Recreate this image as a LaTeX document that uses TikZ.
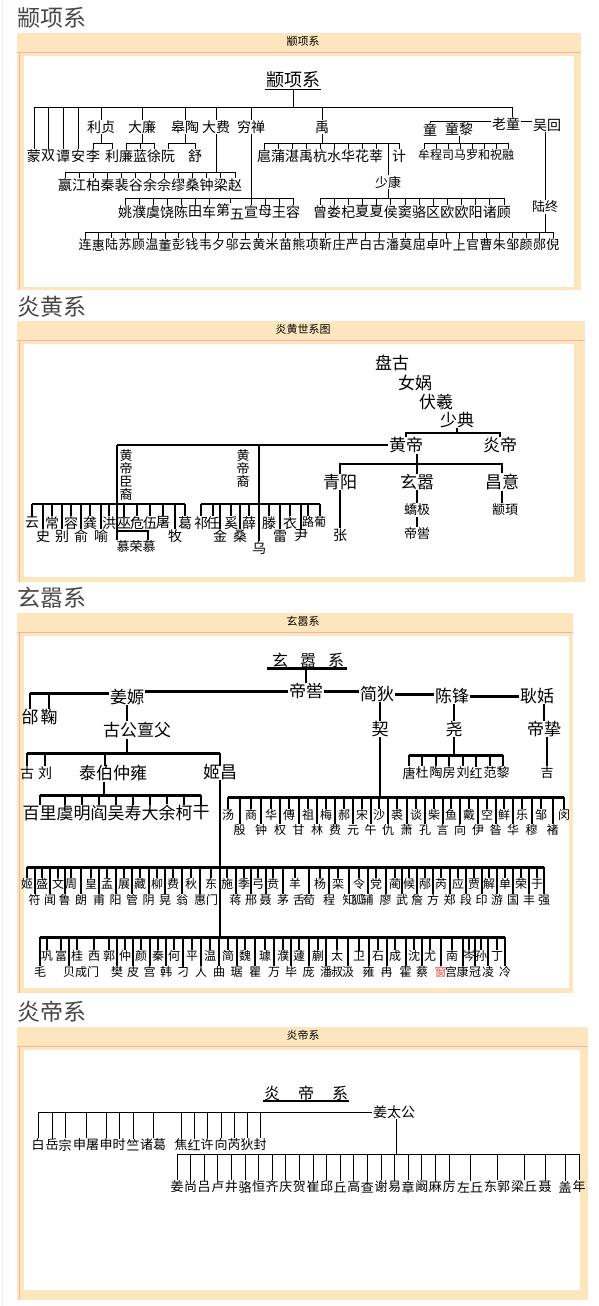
\documentclass[tikz,border=0pt]{standalone}
\usepackage{fontspec}
\setmainfont{Noto Sans CJK SC}
\usetikzlibrary{positioning}
\definecolor{boxbg}{HTML}{FDE6BD}
\definecolor{boxline}{HTML}{F4B4A6}
\definecolor{ttlgray}{HTML}{474747}
\definecolor{oddred}{HTML}{F04848}
\newcommand{\fsz}[1]{\fontsize{#1}{#1}\selectfont}

\tikzset{
  nm/.style={inner sep=0.4pt, font=\fsz{14}},
  nms/.style={inner sep=0.4pt, font=\fsz{13}},
  nmt/.style={inner sep=0.4pt, font=\fsz{12}},
  nmb/.style={inner sep=0.4pt, font=\fsz{17}},
  ln/.style={line width=0.8pt},
  lnb/.style={line width=2pt},
  lnbb/.style={line width=3pt},
  sectitle/.style={anchor=west, inner sep=0pt, text=ttlgray, font=\fsz{23}},
  hdr/.style={inner sep=0pt, font=\fsz{11}},
}

\begin{document}
\begin{tikzpicture}[x=1pt,y=-1pt]
\useasboundingbox (0,0) rectangle (599,1306);
\fill[white] (0,0) rectangle (599,1306);
\draw[pink!35] (2,0) -- (2,1306);

% frames
\foreach \tp/\bt/\rt/\wr/\wb/\ty/\sn/\hd [count=\k] in {
  33/290/581/574/287/18/颛项系/颛项系,
  321/582/585/574/577/307/炎黄系/炎黄世系图,
  613/993/573/569/988/598/玄嚣系/玄嚣系,
  1027/1300/588/580/1290/1012/炎帝系/炎帝系} {
  \fill[boxbg] (17,\tp) rectangle (\rt,\bt);
  \draw[boxline] (17,\tp+19) -- (\rt,\tp+19);
  \draw[boxline] (19.5,\tp+19) -- (19.5,\bt);
  \fill[white] (24,\tp+23) rectangle (\wr,\wb);
  \node[hdr] (hd\k) at (303,\tp+8) {\hd};
  \node[sectitle] (st\k) at (17,\ty) {\sn};
}

% ---- 颛项系
\node[font=\fsz{18}, inner sep=0.5pt] (zx) at (293,80) {颛项系};
\draw[ln] (zx.south west) -- (zx.south east);
\coordinate (zbar) at (0,107);
\coordinate (zbr) at (0,143);
\coordinate (dfbar) at (0,172);
\coordinate (qcbar) at (0,198);
\coordinate (lzbar) at (0,232);

\foreach \x/\lbl/\n in {101/利贞/lz,142/大廉/dl,185/皋陶/gy,216/大费/df,251/穷禅/qc,322/禹/yu}
  \node[nm] (\n) at (\x,127) {\lbl};
\node[nm] (lt) at (506,124) {老童};
\node[nm] (wh) at (547,125) {吴回};
\node[nm] (tg) at (430,130) {童};
\node[nm] (tl) at (459,129) {童黎};
\foreach \x/\lbl [count=\i] in {34/蒙,48/双,63/谭,78/安}
  \node[nm] (zm\i) at (\x,156) {\lbl};

\coordinate (ltt) at ([xshift=6pt]lt.north);
\draw[ln] (zx.south) -- (zx.south |- zbar);
\draw[ln] (zm1.north) |- (ltt |- zbar) -- (ltt);
\foreach \n in {zm2,zm3,zm4,lz,dl,gy,df,qc,yu}
  \draw[ln] (\n.north) -- (\n.north |- zbar);

\foreach \x/\lbl/\p [count=\i] in {93/李/lz,112/利/lz,126/廉/dl,140/蓝/dl,154/徐/dl,168/阮/gy,195/舒/gy} {
  \node[nm] (zs\i) at (\x,156) {\lbl};
  \draw[ln] (zs\i.north) -- (zs\i.north |- zbr) -| (\p.south);
}

\draw[ln] (df.south) -- (df.south |- dfbar);
\foreach \lbl [count=\i from 0] in {嬴,江,柏,秦,裴,谷,余,佘,缪,桑,钟,梁,赵} {
  \node[nm] (dc\i) at ({65+14.17*\i},185) {\lbl};
  \draw[ln] (dc\i.north) -- (dc\i.north |- dfbar);
}
\draw[ln] (dc0.north |- dfbar) -- (dc12.north |- dfbar);

\draw[ln] (qc.south) -- (qc.south |- qcbar);
\foreach \x/\lbl [count=\i] in {125/姚,139/濮,153/虞,167/饶,181/陈,195/田,209/车,230/第\raisebox{-4pt}{五},251/宣,265/母,279/王,293/容} {
  \node[nm] (qcc\i) at (\x,212) {\lbl};
  \draw[ln] (qcc\i.north) -- (qcc\i.north |- qcbar);
}
\draw[ln] (qcc1.north |- qcbar) -- (qcc12.north |- qcbar);

\draw[ln] (yu.south) -- (yu.south |- zbr);
\foreach \x/\lbl [count=\i] in {264/扈,278/蒲,292/湛,306/禹,320/杭,334/水,348/华,362/花,376/莘,399/计} {
  \node[nm] (yuc\i) at (\x,156) {\lbl};
  \draw[ln] (yuc\i.north) -- (yuc\i.north |- zbr);
}
\node[nms] (sk) at (388,182) {少康};
\draw[ln] (sk.north) -- (sk.north |- zbr);
\draw[ln] (yuc1.north |- zbr) -- (yuc10.north |- zbr);

\draw[ln] (sk.south) -- (sk.south |- qcbar);
\foreach \lbl [count=\i from 0] in {曾,娄,杞,夏,夏,侯,窦,骆,区,欧,欧,阳,诸,顾} {
  \node[nm] (kc\i) at ({320+14.15*\i},212) {\lbl};
  \draw[ln] (kc\i.north) -- (kc\i.north |- qcbar);
}
\draw[ln] (kc0.north |- qcbar) -- (kc13.north |- qcbar);

\draw[ln] (tl.south) -- (tl.south |- zbr);
\foreach \lbl [count=\i from 0] in {牟,程,司,马,罗,和,祝,融} {
  \node[nmt] (tc\i) at ({424+12*\i},155) {\lbl};
  \draw[ln] (tc\i.north) -- (tc\i.north |- zbr);
}
\draw[ln] (tc0.north |- zbr) -- (tc7.north |- zbr);

\coordinate (ltw) at ([yshift=3pt]lt.west);
\coordinate (lte) at ([yshift=3pt]lt.east);
\draw[ln] (ltw) -- (ltw -| tg.north) -- (tg.north);
\draw[ln] (lte) -- (lte -| wh.west);

\node[nms] (lzh) at (545,207) {陆终};
\draw[ln] (lzh.north) -- (lzh.north |- wh.south);
\draw[ln] (lzh.south) -- (lzh.south |- lzbar);
\foreach \lbl [count=\i from 0] in {连,惠,陆,苏,顾,温,董,彭,钱,韦,夕,邬,云,黄,米,苗,熊,项,靳,庄,严,白,古,潘,莫,屈,卓,叶,上,官,曹,朱,邹,颜,郧,倪} {
  \node[nms] (lc\i) at ({85+13.37*\i},245) {\lbl};
  \draw[ln] (lc\i.north) -- (lc\i.north |- lzbar);
}
\draw[ln] (lc0.north |- lzbar) -- (lc35.north |- lzbar);

% ---- 炎黄系
\node[nmb] (pg) at (392,363) {盘古};
\node[nmb] (nw) at (415,383) {女娲};
\node[nmb] (fx) at (436,402) {伏羲};
\node[nmb] (sd) at (457,420) {少典};
\node[nmb] (hd) at (406,445) {黄帝};
\node[nmb] (yd) at (500,445) {炎帝};
\coordinate (sdbar) at (0,433);
\draw[lnb] (sd.south) -- (sd.south |- sdbar);
\draw[lnb] (hd.north) -- (hd.north |- sdbar) -- (yd.north |- sdbar) -- (yd.north);

\coordinate (hcy) at (117,445);
\coordinate (hdy) at (259,445);
\coordinate (hcbar) at (0,504);
\draw[lnb] (hd.west) -- (hcy);
\node[font=\fsz{13}, align=center, inner sep=0pt] (hcl) at (126,475) {黄\\帝\\臣\\裔};
\node[font=\fsz{13}, align=center, inner sep=0pt] (hyl) at (243,469) {黄\\帝\\裔};

\foreach \x/\lbl [count=\i] in {32/云,52/常,71/容,90/龚,109/洪,124/巫,137/危,150/伍,163/屠,185/葛} {
  \node[nm] (hcu\i) at (\x,523) {\lbl};
  \draw[lnb] (hcu\i.north) -- (hcu\i.north |- hcbar);
}
\foreach \x/\lbl [count=\i] in {43/史,62/别,81/俞,101/喻,175/牧} {
  \node[nm] (hcd\i) at (\x,536) {\lbl};
  \draw[lnb] (hcd\i.north) -- (hcd\i.north |- hcbar);
}
\draw[lnb] (hcu1.north |- hcbar) -- (hcu10.north |- hcbar);
\node[nms] (mr) at (136,547) {慕荣慕};
\draw[lnb] (hcy) -- (hcy |- mr.north);
\coordinate (mrr) at ([xshift=12pt]mr.north);
\draw[lnb] (hcy |- 0,531) -| (mrr);

\foreach \x/\lbl [count=\i] in {201/祁,213/任,231/奚,249/薛,269/滕,290/衣} {
  \node[nm] (hyu\i) at (\x,523) {\lbl};
  \draw[lnb] (hyu\i.north) -- (hyu\i.north |- hcbar);
}
\foreach \x/\lbl [count=\i] in {308/路,320/葡} {
  \node[nmt] (hyr\i) at (\x,522) {\lbl};
  \draw[lnb] (hyr\i.north) -- (hyr\i.north |- hcbar);
}
\foreach \x/\lbl [count=\i] in {220/金,240/桑,280/雷,301/尹} {
  \node[nm] (hyd\i) at (\x,536) {\lbl};
  \draw[lnb] (hyd\i.north) -- (hyd\i.north |- hcbar);
}
\draw[lnb] (hyu1.north |- hcbar) -- (hyr2.north |- hcbar);
\node[nm] (wu) at (259,548) {乌};
\draw[lnb] (hdy) -- (wu.north);

\coordinate (hdbar) at (0,464);
\node[nmb] (qy) at (340,482) {青阳};
\node[nmb] (xq) at (417,482) {玄嚣};
\node[nmb] (cy) at (502,482) {昌意};
\draw[lnb] (hd.south -| xq.north) -- (xq.north);
\draw[lnb] (qy.north) -- (qy.north |- hdbar) -- (cy.north |- hdbar) -- (cy.north);
\node[nm] (zh) at (340,535) {张};
\draw[lnb] (qy.south) -- (zh.north);
\node[nms] (jj) at (417,510) {蟜极};
\node[nms] (dk) at (417,534) {帝喾};
\draw[lnb] (xq.south) -- (jj.north);
\draw[lnb] (jj.south) -- (dk.north);
\node[nms] (zxu) at (505,510) {颛頊};
\draw[lnb] (cy.south) -- (cy.south |- zxu.north);

% ---- 玄嚣系
\node[font=\fsz{16}, inner sep=0.5pt] (xx) at (308,660) {玄\hspace{12pt}嚣\hspace{12pt}系};
\draw[lnbb] ([xshift=-4pt]xx.south west) -- ([xshift=2pt]xx.south east);
\node[nmb] (dk3) at (306,691) {帝喾};
\draw[lnb] (dk3.north) -- (dk3.north |- xx.south);
\node[nmb] (jy) at (127,697) {姜嫄};
\node[nmb] (jd) at (377,694) {简狄};
\node[nmb] (cf) at (452,696) {陈锋};
\node[nmb] (gg) at (537,696) {耿姡};
\draw[lnbb] (dk3.west) -- (dk3.west -| jy.east);
\draw[lnbb] (dk3.east) -- (dk3.east -| jd.west);
\draw[lnbb] (jd.east) -- (jd.east -| cf.west);
\draw[lnbb] (cf.east) -- (cf.east -| gg.west);

\node[nmb] (tai) at (30,717) {邰};
\node[nmb] (ju) at (49,717) {鞠};
\coordinate (jyl) at ([yshift=4pt]jy.west);
\draw[lnbb] (jyl) -- (jyl -| tai.north);
\draw[lnb] (tai.north) -- (tai.north |- jyl);
\draw[lnb] (ju.north) -- (ju.north |- jyl);

\node[nmb] (gd) at (137,730) {古公亶父};
\draw[lnb] (jy.south) -- (jy.south |- gd.north);
\coordinate (gdbar) at (0,753);
\draw[lnb] (jy.south |- gd.south) -- (jy.south |- gdbar);
\node[nm] (gu) at (27,773) {古};
\node[nm] (liu) at (45,773) {刘};
\node[nmb] (tb) at (113,773) {泰伯仲雍};
\node[nmb] (jc) at (220,772) {姬昌};
\coordinate (tbt) at ([xshift=-8pt]tb.north);
\coordinate (tbb) at ([xshift=-9pt]tb.south);
\draw[lnbb] (gu.north |- gdbar) -- (jc.north |- gdbar);
\foreach \n in {gu,liu,tbt,jc}
  \draw[lnb] (\n |- gdbar) -- (\n |- gu.north);

\node[nmb] (qi) at (380,729) {契};
\node[nmb] (yao) at (454,729) {尧};
\node[nmb] (dz) at (544,729) {帝挚};
\draw[lnb] (qi.north |- jd.south) -- (qi.north);
\draw[lnb] (yao.north |- cf.south) -- (yao.north);
\draw[lnb] (dz.north |- gg.south) -- (dz.north);
\coordinate (yaobar) at (0,755);
\draw[lnb] (yao.south) -- (yao.south |- yaobar);
\foreach \x/\lbl [count=\i] in {409/唐,422/杜,436/陶,449/房,463/刘,476/红,490/范,503/黎} {
  \node[nms] (yc\i) at (\x,773) {\lbl};
  \draw[lnb] (yc\i.north) -- (yc\i.north |- yaobar);
}
\draw[lnbb] (yc1.north |- yaobar) -- (yc8.north |- yaobar);
\node[nms] (ji) at (547,773) {吉};
\draw[lnb] (ji.north) -- (ji.north |- dz.south);

\coordinate (bbar) at (0,795);
\draw[lnb] (tbb) -- (tbb |- bbar);
\foreach \x/\lbl [count=\i] in {39.5/百里,65/虞,82/明,99/阎,116/吴,133/寿,150/大,167/余,184/柯,201/干} {
  \node[nmb] (bl\i) at (\x,813) {\lbl};
  \draw[lnb] (bl\i.north) -- (bl\i.north |- bbar);
}
\draw[lnbb] (bl1.north |- bbar) -- (bl10.north |- bbar);

\coordinate (r1bar) at (0,797);
\draw[lnb] (qi.south) -- (qi.south |- r1bar);
\foreach \x/\lbl [count=\i] in {228/汤,251/商,271/华,289/傅,308/祖,326/梅,344/郝,362/宋,379/沙,397/裘,416/谈,434/柴,451/鱼,469/戴,487/空,504/鲜,522/乐,541/邹,564/闵} {
  \node[nmt] (r1u\i) at (\x,815) {\lbl};
  \draw[lnb] (r1u\i.north) -- (r1u\i.north |- r1bar);
}
\foreach \x/\lbl [count=\i] in {239.5/殷,261/钟,280/权,298.5/甘,317/林,335/费,353/元,370.5/午,388/仇,406.5/萧,425/孔,442.5/言,460/向,478/伊,495.5/昝,513/华,531.5/穆,552.5/褚} {
  \node[nmt] (r1l\i) at (\x,830) {\lbl};
  \draw[lnb] (r1l\i.north) -- (r1l\i.north |- r1bar);
}
\draw[lnbb] (r1u1.north |- r1bar) -- (r1u19.north |- r1bar);

\coordinate (r2bar) at (0,867);
\coordinate (r3bar) at (0,937);
\draw[lnb] (jc.south) -- (jc.south |- r3bar);
\foreach \x/\lbl [count=\i] in {27/姬,42/盛,58/文,71/周,91/皇,107/孟,124/展,140/藏,157/柳,173/费,191/秋,211/东,227/施,244/季,258/弓,273/贲,295/羊,320/杨,338/栾,359/令,376/党,395/蔺,409/候,425/邴,441/芮,458/应,474/贾,489/解,505/单,521/荣,537/于} {
  \node[nmt] (r2u\i) at (\x,884) {\lbl};
  \draw[lnb] (r2u\i.north) -- (r2u\i.north |- r2bar);
}
\foreach \x/\lbl/\tk [count=\i] in {34.5/符/1,50/闻/1,64.5/鲁/1,81/朗/1,99/甫/1,115.5/阳/1,132/管/1,148.5/阴/1,165/晃/1,182/翁/1,200/惠/1,212/门/0,235.5/蒋/1,251/邢/1,265.5/聂/1,283/茅/1,299/舌/0,309/荀/1,329/程/1,348.5/知/1,358/狐/0,367.5/辅/1,385.5/廖/1,402/武/1,417/詹/1,433/方/1,449.5/郑/1,466/段/1,481.5/印/1,497/游/1,513/国/1,529/丰/1,544/强/1} {
  \node[nmt] (r2l\i) at (\x,900) {\lbl};
  \ifnum\tk=1 \draw[lnb] (r2l\i.north) -- (r2l\i.north |- r2bar); \fi
}
\draw[lnbb] (r2u1.north |- r2bar) -- (r2l33.north |- r2bar);

\foreach \x/\lbl [count=\i] in {47/巩,61/富,77/桂,94/西,109/郭,125/仲,141/颜,158/秦,174/何,192/平,210/温,228/简,245/魏,265/璩,283/濮,299/蘧,318/蒯,337/太,359/卫,378/石,395/成,414/沈,430/尤,452/南,469/岑,481/孙,497/丁} {
  \node[nmt] (r3u\i) at (\x,956) {\lbl};
  \draw[lnb] (r3u\i.north) -- (r3u\i.north |- r3bar);
}
\foreach \x/\lbl/\tk [count=\i] in {40/毛/1,69/贝/1,81/成/0,93/门/0,117/樊/1,133/皮/1,149.5/宫/1,166/韩/1,183/刁/1,201/人/1,219/曲/1,236.5/琚/1,255/瞿/1,274/万/1,291/毕/1,308.5/庞/1,326/潘/1,337/叔/0,348/汲/1,368.5/雍/1,386.5/冉/1,405.5/霍/1,422/蔡/1,440.5/\textcolor{oddred}{窗}/1,451/宫/0,462.5/康/1,475/冠/1,488/凌/1,505/冷/1} {
  \node[nmt] (r3l\i) at (\x,972) {\lbl};
  \ifnum\tk=1 \draw[lnb] (r3l\i.north) -- (r3l\i.north |- r3bar); \fi
}
\draw[lnbb] (r3l1.north |- r3bar) -- (r3l29.north |- r3bar);

% ---- 炎帝系
\node[font=\fsz{16}, inner sep=0.5pt] (yx) at (306,1093) {炎\hspace{18pt}帝\hspace{18pt}系};
\draw[lnb] (yx.south west) -- (yx.south east);
\node[nm] (jtg) at (394,1112) {姜太公};
\foreach \x/\lbl [count=\i] in {38/白,52/岳,65/宗,86/申屠,106/申,119/时,133/竺,153/诸葛,181/焦,194/红,207/许,221/向,234/芮,247/狄,260/封} {
  \node[nms] (ydu\i) at (\x,1145) {\lbl};
  \draw[ln] (ydu\i.north) -- (ydu\i.north |- jtg.west);
}
\draw[ln] (jtg.west) -- (jtg.west -| ydu1.north);
\coordinate (ydbar) at (0,1154);
\draw[ln] ([xshift=2pt]jtg.south) -- ([xshift=2pt]jtg.south |- ydbar);
\foreach \lbl [count=\i from 0] in {姜,尚,吕,卢,井,骆,恒,齐,庆,贺,崔,邱,丘,高,查,谢,易,章,阚,麻,厉} {
  \node[nms] (ydl\i) at ({177+13.6*\i},1187) {\lbl};
  \draw[ln] (ydl\i.north) -- (ydl\i.north |- ydbar);
}
\foreach \x/\lbl [count=\i] in {470/左丘,497/东郭,524/梁丘,545/聂,565/盖,579/年} {
  \node[nms] (ydr\i) at (\x,1187) {\lbl};
  \draw[ln] (ydr\i.north) -- (ydr\i.north |- ydbar);
}
\draw[ln] (ydl0.north |- ydbar) -- (ydr6.north |- ydbar);
\end{tikzpicture}
\end{document}
